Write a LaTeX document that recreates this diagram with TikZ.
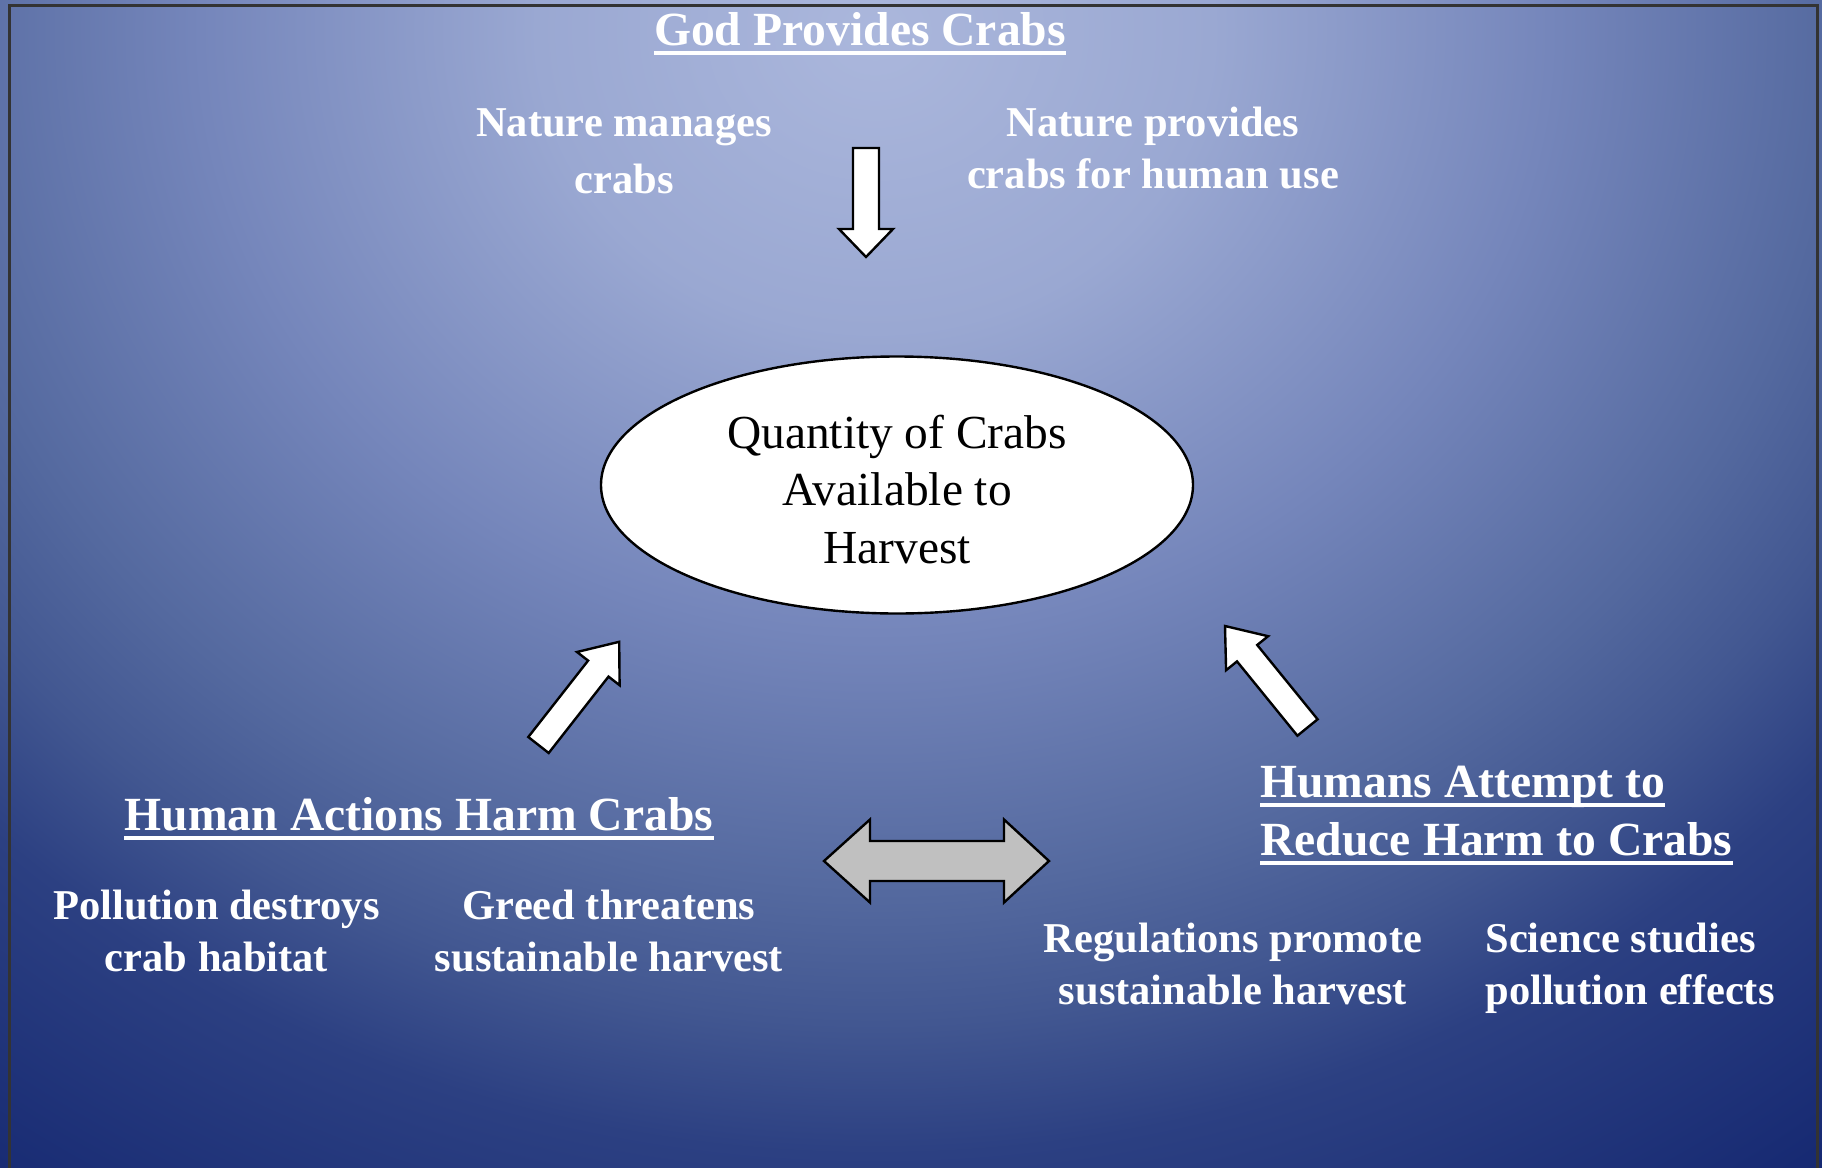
\documentclass[tikz,border=0pt]{standalone}
\usepackage{fontspec}
\usepackage{graphicx}
\setmainfont{Liberation Serif}
\usetikzlibrary{shapes.geometric}
\definecolor{bgA}{HTML}{ABB7DC}
\definecolor{bgB}{HTML}{9AA8D2}
\definecolor{bgC}{HTML}{7586BB}
\definecolor{bgD}{HTML}{54699F}
\definecolor{bgE}{HTML}{425791}
\definecolor{bgF}{HTML}{2C4082}
\definecolor{bgG}{HTML}{162972}
\definecolor{arrowgray}{HTML}{C0C0C0}
\definecolor{borderc}{HTML}{333333}
\pgfdeclareradialshading{bgrad}{\pgfpoint{0bp}{0bp}}{color(0bp)=(bgA); color(150bp)=(bgB); color(300bp)=(bgC); color(430bp)=(bgD); color(495bp)=(bgE); color(560bp)=(bgF); color(705bp)=(bgG); color(760bp)=(bgG)}
\begin{document}
\begin{tikzpicture}[x=0.5pt,y=-0.5pt,
  hdr/.style={text=white, font=\fontsize{23.8}{28.5}\selectfont\bfseries, inner sep=0pt},
  sub/.style={text=white, font=\fontsize{21.25}{26}\selectfont\bfseries, inner sep=0pt, anchor=base, align=center},
  subwide/.style={sub, font=\fontsize{21.25}{28.5}\selectfont\bfseries},
  ul/.style={white, line width=1.85pt},
  blk/.style={draw=black, line width=1.2pt, fill=white, line join=miter},
  dbl/.style={draw=black, line width=1.2pt, fill=arrowgray, line join=miter},
  border/.style={draw=borderc, line width=1.5pt},
  oval/.style={ellipse, draw=black, line width=1.2pt, fill=white, minimum width=296pt, minimum height=128.5pt, inner sep=0pt, align=center, font=\fontsize{23.7}{28.75}\selectfont}]
\useasboundingbox (0,0) rectangle (1822,1168);
\begin{scope}
  \clip (0,0) rectangle (1822,1168);
  \node[inner sep=0pt, outer sep=0pt] (bg) at (875,30) {\scalebox{1.12}[1]{\pgfuseshading{bgrad}}};
\end{scope}
\draw[border] (9,1172) -- (9,5) -- (1817,5) -- (1817,1172);

% title
\node[hdr, anchor=base] (god) at (860,45) {God Provides Crabs};
\draw[ul] ([yshift=-4pt]god.base west) -- ([yshift=-4pt]god.base east);
\node[subwide] (nm) at (624,193) {Nature manages\\crabs};
\node[sub] (np) at (1153,188) {Nature provides\\crabs for human use};

% down arrow
\draw[blk] (853,148) -- (879,148) -- (879,229) -- (893,229) -- (866,257) -- (839,229) -- (853,229) -- cycle;

% central ellipse
\node[oval] (q) at (897,485) {\rule{0pt}{21pt}Quantity of Crabs\\Available to\\Harvest};

% diagonal arrows
\draw[blk] (528.3,737) -- (588.1,660.6) -- (577,652) -- (619.2,641.8) -- (619.6,685.2) -- (608.5,676.6) -- (548.7,753) -- cycle;
\draw[blk] (1317.6,719.3) -- (1257.2,645) -- (1268.1,636.2) -- (1225,626) -- (1226.1,670.2) -- (1237,661.4) -- (1297.4,735.7) -- cycle;

% left group
\node[hdr, anchor=base] (harm) at (419,830) {Human Actions Harm Crabs};
\draw[ul] ([yshift=-4pt]harm.base west) -- ([yshift=-4pt]harm.base east);
\node[sub] (pd) at (216.5,971) {Pollution destroys\\crab habitat};
\node[sub] (gt) at (609,971) {Greed threatens\\sustainable harvest};

% double arrow
\draw[dbl] (824,861) -- (870,819.5) -- (870,841) -- (1004,841) -- (1004,819.5) -- (1049,861) -- (1004,902.5) -- (1004,881) -- (870,881) -- (870,902.5) -- cycle;

% right group
\node[hdr, anchor=base west] (hatA) at (1260,797) {Humans Attempt to};
\draw[ul] ([yshift=-4pt]hatA.base west) -- ([yshift=-4pt]hatA.base east);
\node[hdr, anchor=base west] (hatB) at (1260,855) {Reduce Harm to Crabs};
\draw[ul] ([yshift=-4pt]hatB.base west) -- ([yshift=-4pt]hatB.base east);
\node[sub] (rp) at (1233,1004) {Regulations promote\\sustainable harvest};
\node[sub, anchor=base west, align=left] (ss) at (1485,1004) {Science studies\\pollution effects};
\end{tikzpicture}
\end{document}
